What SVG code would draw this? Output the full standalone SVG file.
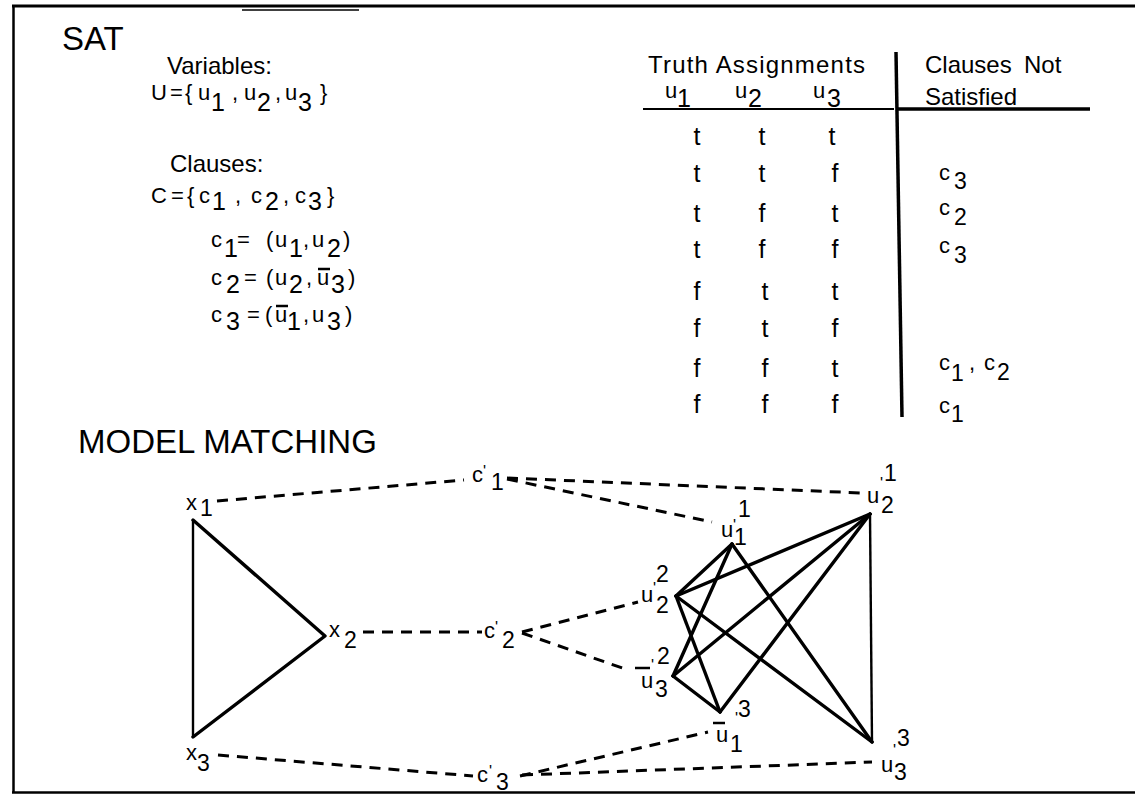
<svg xmlns="http://www.w3.org/2000/svg" width="1135" height="794" viewBox="0 0 1135 794">
<style>
text{font-family:"Liberation Sans",Arial,Helvetica,sans-serif;fill:#000}
.big{font-size:33px}
.hd{font-size:24px}
.f{font-size:22px}
.d{font-size:25px}
.tf{font-size:25px;text-anchor:middle}
.g{font-size:22px}
.gd{font-size:23px}
.p{font-size:16px}
.frame{stroke:#000;fill:none}
.solid{stroke:#000;stroke-width:3.4;fill:none;stroke-linecap:round;stroke-linejoin:round}
.thin{stroke:#000;stroke-width:2.4;fill:none}
.dash{stroke:#000;stroke-width:3;fill:none;stroke-dasharray:11 8}
.ol{stroke:#000;stroke-width:2.5}
</style>
<rect width="1135" height="794" fill="#fff"/>
<g id="frame">
<line class="frame" x1="12" y1="6" x2="1135" y2="6" stroke-width="3"/>
<line class="frame" x1="13.5" y1="5" x2="13.5" y2="793" stroke-width="2.5"/>
<line class="frame" x1="12" y1="792.5" x2="1135" y2="792.5" stroke-width="2.5"/>
<line class="frame" x1="242" y1="10" x2="359" y2="10" stroke-width="1.5"/>
</g>
<g id="sat">
<text class="big" x="62" y="50">SAT</text>
<text class="hd" x="167" y="74">Variables:</text>
<text class="f" y="100"><tspan x="151">U</tspan><tspan x="170">=</tspan><tspan x="185">{</tspan><tspan x="198">u</tspan><tspan class="d" x="211" y="111">1</tspan><tspan x="232" y="100">,</tspan><tspan x="244">u</tspan><tspan class="d" x="257" y="111">2</tspan><tspan x="275" y="100">,</tspan><tspan x="285">u</tspan><tspan class="d" x="298" y="111">3</tspan><tspan x="320" y="100">}</tspan></text>
<text class="hd" x="170" y="172">Clauses:</text>
<text class="f" y="203"><tspan x="151">C</tspan><tspan x="171">=</tspan><tspan x="187">{</tspan><tspan x="199">c</tspan><tspan class="d" x="212" y="210">1</tspan><tspan x="235" y="203">,</tspan><tspan x="251">c</tspan><tspan class="d" x="265" y="210">2</tspan><tspan x="283" y="203">,</tspan><tspan x="295">c</tspan><tspan class="d" x="308" y="210">3</tspan><tspan x="327" y="203">}</tspan></text>
<text class="f" y="247"><tspan x="211">c</tspan><tspan class="d" x="224" y="257">1</tspan><tspan x="237" y="247">=</tspan><tspan x="266">(</tspan><tspan x="275">u</tspan><tspan class="d" x="289" y="257">1</tspan><tspan x="303" y="247">,</tspan><tspan x="312">u</tspan><tspan class="d" x="327" y="257">2</tspan><tspan x="343" y="247">)</tspan></text>
<text class="f" y="285"><tspan x="211">c</tspan><tspan class="d" x="226" y="293">2</tspan><tspan x="244" y="285">=</tspan><tspan x="266">(</tspan><tspan x="275">u</tspan><tspan class="d" x="289" y="293">2</tspan><tspan x="306" y="285">,</tspan><tspan x="317">u</tspan><tspan class="d" x="331" y="293">3</tspan><tspan x="348" y="285">)</tspan></text>
<line class="ol" x1="318" y1="269" x2="330" y2="269"/>
<text class="f" y="322"><tspan x="211">c</tspan><tspan class="d" x="226" y="330">3</tspan><tspan x="247" y="322">=</tspan><tspan x="265">(</tspan><tspan x="275">u</tspan><tspan class="d" x="287" y="330">1</tspan><tspan x="303" y="322">,</tspan><tspan x="312">u</tspan><tspan class="d" x="327" y="330">3</tspan><tspan x="345" y="322">)</tspan></text>
<line class="ol" x1="276" y1="306" x2="288" y2="306"/>
</g>
<g id="table">
<line class="frame" x1="896" y1="52" x2="902" y2="417" stroke-width="3.5"/>
<line class="frame" x1="643" y1="109" x2="894" y2="109" stroke-width="2"/>
<line class="frame" x1="898" y1="109" x2="1090" y2="109" stroke-width="3.5"/>
<text class="hd" x="648" y="73" font-size="25" textLength="217" lengthAdjust="spacing">Truth Assignments</text>
<text class="hd" x="925" y="73">Clauses</text>
<text class="hd" x="1024" y="73">Not</text>
<text class="hd" x="925" y="105">Satisfied</text>
<text class="f" y="98"><tspan x="665">u</tspan><tspan class="d" x="677" y="107">1</tspan><tspan x="735" y="98">u</tspan><tspan class="d" x="748" y="107">2</tspan><tspan x="813" y="98">u</tspan><tspan class="d" x="827" y="107">3</tspan></text>
<g>
<text class="tf" x="697" y="145">t</text><text class="tf" x="762" y="145">t</text><text class="tf" x="832" y="145">t</text>
<text class="tf" x="697" y="182">t</text><text class="tf" x="762" y="182">t</text><text class="tf" x="835" y="182">f</text>
<text class="tf" x="697" y="222">t</text><text class="tf" x="762" y="222">f</text><text class="tf" x="835" y="222">t</text>
<text class="tf" x="697" y="258">t</text><text class="tf" x="762" y="258">f</text><text class="tf" x="835" y="258">f</text>
<text class="tf" x="697" y="300">f</text><text class="tf" x="765" y="300">t</text><text class="tf" x="835" y="300">t</text>
<text class="tf" x="697" y="337">f</text><text class="tf" x="765" y="337">t</text><text class="tf" x="835" y="337">f</text>
<text class="tf" x="697" y="377">f</text><text class="tf" x="765" y="377">f</text><text class="tf" x="835" y="377">t</text>
<text class="tf" x="697" y="413">f</text><text class="tf" x="765" y="413">f</text><text class="tf" x="835" y="413">f</text>
</g>
<text class="f"><tspan x="939" y="180">c</tspan><tspan class="gd" x="954" y="189">3</tspan></text>
<text class="f"><tspan x="939" y="215">c</tspan><tspan class="gd" x="954" y="225">2</tspan></text>
<text class="f"><tspan x="939" y="253">c</tspan><tspan class="gd" x="954" y="263">3</tspan></text>
<text class="f"><tspan x="939" y="370">c</tspan><tspan class="gd" x="951" y="381">1</tspan><tspan x="969" y="370">,</tspan><tspan x="984">c</tspan><tspan class="gd" x="997" y="380">2</tspan></text>
<text class="f"><tspan x="939" y="413">c</tspan><tspan class="gd" x="951" y="422">1</tspan></text>
</g>
<text class="big" x="78" y="453" font-size="36">MODEL MATCHING</text>
<g id="connectors">
<line class="dash" x1="217" y1="501" x2="464" y2="480"/>
<line class="dash" x1="507" y1="478" x2="862" y2="493"/>
<line class="dash" x1="507" y1="479" x2="712" y2="522"/>
<line class="dash" x1="363" y1="632" x2="482" y2="632"/>
<line class="dash" x1="522" y1="632" x2="638" y2="602"/>
<line class="dash" x1="522" y1="633" x2="628" y2="670"/>
<line class="dash" x1="218" y1="755" x2="473" y2="776"/>
<line class="dash" x1="520" y1="776" x2="708" y2="732"/>
<line class="dash" x1="522" y1="775" x2="872" y2="762"/>
<polyline class="solid" points="193,520 325,636 193,737"/>
<line class="thin" x1="193" y1="520" x2="193" y2="737"/>
<line class="solid" x1="732" y1="544" x2="676" y2="596"/>
<line class="solid" x1="732" y1="544" x2="673" y2="676"/>
<line class="solid" x1="732" y1="544" x2="872" y2="742"/>
<line class="solid" x1="676" y1="596" x2="870" y2="514"/>
<line class="solid" x1="676" y1="596" x2="720" y2="712"/>
<line class="solid" x1="676" y1="596" x2="872" y2="742"/>
<line class="solid" x1="673" y1="676" x2="870" y2="514"/>
<line class="solid" x1="673" y1="676" x2="720" y2="712"/>
<line class="solid" x1="720" y1="712" x2="870" y2="514"/>
<line class="thin" x1="870" y1="514" x2="872" y2="742"/>
</g>
<g id="n-x1"><text class="g" x="186" y="510">x</text><text class="gd" x="200" y="516">1</text></g>
<g id="n-x2"><text class="g" x="329" y="637">x</text><text class="gd" x="344" y="648">2</text></g>
<g id="n-x3"><text class="g" x="186" y="760">x</text><text class="gd" x="197" y="771">3</text></g>
<g id="n-c1"><text class="g" x="472" y="482">c</text><text class="p" x="483" y="477">'</text><text class="gd" x="491" y="490">1</text></g>
<g id="n-c2"><text class="g" x="484" y="638">c</text><text class="p" x="495" y="633">'</text><text class="gd" x="502" y="648">2</text></g>
<g id="n-c3"><text class="g" x="477" y="782">c</text><text class="p" x="489" y="777">'</text><text class="gd" x="496" y="790">3</text></g>
<g id="n-u11"><text class="g" x="721" y="537">u</text><text class="p" x="733" y="531">'</text><text class="gd" x="738" y="517">1</text><text class="gd" x="734" y="545">1</text></g>
<g id="n-u21"><text class="g" x="867" y="503">u</text><text class="p" x="880" y="489">'</text><text class="gd" x="884" y="481">1</text><text class="gd" x="881" y="513">2</text></g>
<g id="n-u22"><text class="g" x="641" y="602">u</text><text class="p" x="653" y="594">'</text><text class="gd" x="656" y="582">2</text><text class="gd" x="656" y="613">2</text></g>
<g id="n-u32"><line class="ol" x1="635" y1="668" x2="650" y2="668"/><text class="g" x="641" y="688">u</text><text class="p" x="651" y="671">'</text><text class="gd" x="657" y="664">2</text><text class="gd" x="655" y="697">3</text></g>
<g id="n-u13"><line class="ol" x1="713" y1="723" x2="725" y2="723"/><text class="g" x="716" y="742">u</text><text class="p" x="735" y="724">'</text><text class="gd" x="738" y="717">3</text><text class="gd" x="730" y="752">1</text></g>
<g id="n-u33"><text class="g" x="881" y="772">u</text><text class="p" x="893" y="756">'</text><text class="gd" x="897" y="746">3</text><text class="gd" x="894" y="780">3</text></g>
</svg>
